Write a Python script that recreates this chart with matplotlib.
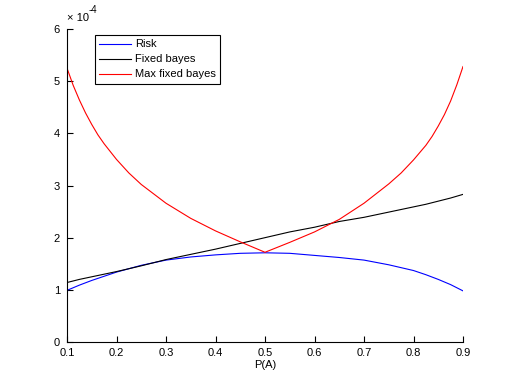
import numpy as np
import matplotlib
matplotlib.use("Agg")
import matplotlib.pyplot as plt

plt.rcParams["font.family"] = ["Liberation Sans", "DejaVu Sans"]

# values in units of 1e-4
p = [0.1, 0.125, 0.15, 0.175, 0.2, 0.25, 0.3, 0.35, 0.4, 0.45, 0.5,
     0.55, 0.6, 0.65, 0.7, 0.75, 0.8, 0.825, 0.85, 0.875, 0.9]
risk = [0.99, 1.09, 1.18, 1.26, 1.34, 1.47, 1.57, 1.63, 1.67, 1.70, 1.71,
        1.70, 1.66, 1.62, 1.57, 1.48, 1.37, 1.29, 1.20, 1.10, 0.98]
fixed = [1.14, 1.20, 1.25, 1.30, 1.35, 1.46, 1.58, 1.68, 1.78, 1.89, 2.00,
         2.11, 2.20, 2.31, 2.39, 2.49, 2.59, 2.64, 2.70, 2.76, 2.83]

p_max = [0.1, 0.1125, 0.125, 0.1375, 0.15, 0.1625, 0.175, 0.2, 0.225, 0.25,
         0.3, 0.35, 0.4, 0.45, 0.5, 0.55, 0.6, 0.65, 0.7, 0.75, 0.775, 0.8,
         0.825, 0.8375, 0.85, 0.8625, 0.875, 0.8875, 0.9]
maxfixed = [5.25, 4.92, 4.64, 4.39, 4.17, 3.97, 3.80, 3.50, 3.24, 3.02,
            2.66, 2.37, 2.13, 1.92, 1.72, 1.91, 2.11, 2.35, 2.66, 3.03, 3.24, 3.49,
            3.77, 3.94, 4.14, 4.36, 4.62, 4.93, 5.28]

fig = plt.figure(figsize=(5.12, 3.84), dpi=100)
ax = fig.add_axes([67 / 512, 42 / 384, 396 / 512, 313 / 384])

ax.plot(p, risk, color="#0000ff", lw=0.8, label="Risk")
ax.plot(p, fixed, color="black", lw=0.8, label="Fixed bayes")
ax.plot(p_max, maxfixed, color="#ff0000", lw=0.8, label="Max fixed bayes")

ax.set_xlim(0.1, 0.9)
ax.set_ylim(0, 6)
ax.set_xticks(np.arange(0.1, 0.91, 0.1))
ax.set_xticklabels(["0.1", "0.2", "0.3", "0.4", "0.5", "0.6", "0.7", "0.8", "0.9"])
ax.set_yticks(range(7))
ax.tick_params(direction="in", length=4, width=0.8, labelsize=8)
ax.tick_params(axis="x", pad=4)
ax.tick_params(axis="y", pad=5)
for s in ["top", "right"]:
    ax.spines[s].set_visible(False)
for s in ["left", "bottom"]:
    ax.spines[s].set_linewidth(0.8)
ax.set_xlabel("P(A)", fontsize=8, labelpad=2)

ax.text(0.0, 1.02, "× 10", transform=ax.transAxes, fontsize=8, va="bottom", ha="left")
ax.text(0.055, 1.045, "-4", transform=ax.transAxes, fontsize=7, va="bottom", ha="left")

leg = ax.legend(loc="upper left", bbox_to_anchor=(0.0707, 0.981), borderaxespad=0,
                fontsize=8, fancybox=False, edgecolor="black", framealpha=1,
                handlelength=2.8, handletextpad=0.4, labelspacing=0.45, borderpad=0.4)
leg.get_frame().set_linewidth(0.8)

fig.savefig("out.png", dpi=100)
